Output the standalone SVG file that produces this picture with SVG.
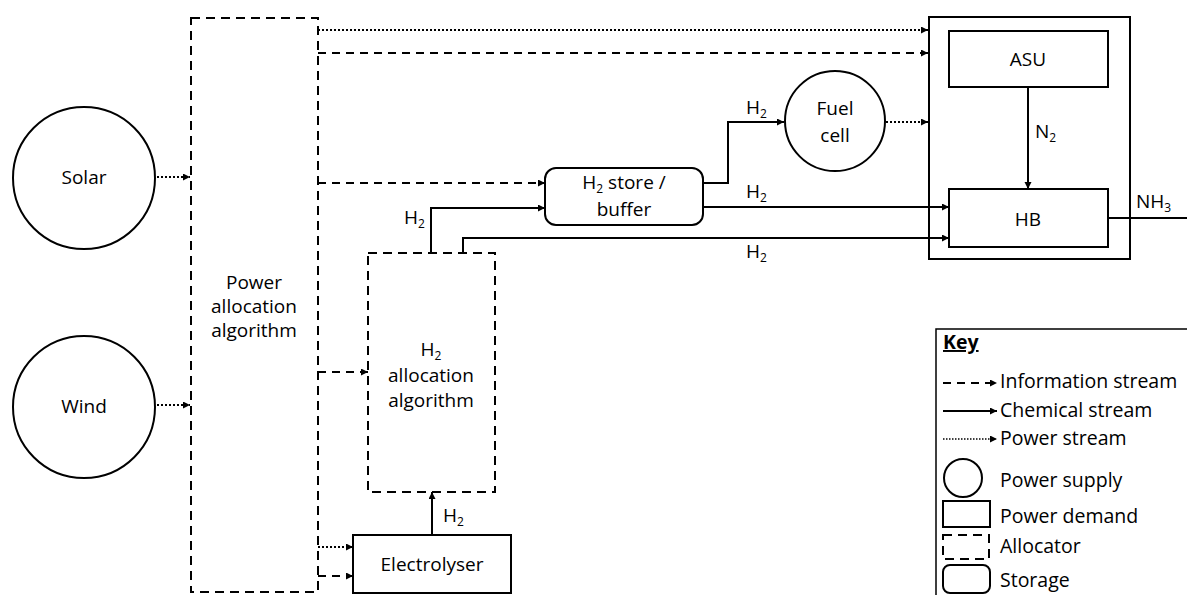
<svg xmlns="http://www.w3.org/2000/svg" width="1187" height="595" viewBox="0 0 1187 595">
<style>
text{font-family:"Open Sans","Liberation Sans",sans-serif;font-size:19px;fill:#000}
.c{text-anchor:middle}
.sub{font-size:12px}
.k{font-size:19.5px}
.box{fill:#fff;stroke:#000;stroke-width:2}
.alloc{fill:none;stroke:#000;stroke-width:2;stroke-dasharray:9 6}
.chem{fill:none;stroke:#000;stroke-width:2}
.info{fill:none;stroke:#000;stroke-width:2;stroke-dasharray:8 6}
.pow{fill:none;stroke:#000;stroke-width:2;stroke-dasharray:2 2}
.arr{marker-end:url(#ah)}
</style>
<defs>
<marker id="ah" markerUnits="userSpaceOnUse" markerWidth="8" markerHeight="8" refX="7" refY="3.5" orient="auto">
<path d="M0,0 L7,3.5 L0,7 z" fill="#000"/>
</marker>
</defs>
<rect width="1187" height="595" fill="#fff"/>

<g id="connectors">
<line class="pow arr" x1="157" y1="177" x2="190" y2="177"/>
<line class="pow arr" x1="157" y1="405" x2="190" y2="405"/>
<line class="pow arr" x1="318" y1="30" x2="928" y2="30"/>
<line class="info arr" x1="318" y1="53" x2="928" y2="53"/>
<line class="info arr" x1="318" y1="183" x2="545" y2="183"/>
<line class="info arr" x1="318" y1="372" x2="368" y2="372"/>
<line class="pow arr" x1="318" y1="547" x2="353" y2="547"/>
<line class="info arr" x1="318" y1="576" x2="353" y2="576"/>
<polyline class="chem arr" points="431,253 431,208 545,208"/>
<polyline class="chem arr" points="463,253 463,238 949,238"/>
<line class="chem arr" x1="703" y1="207" x2="949" y2="207"/>
<polyline class="chem arr" points="703,183 728,183 728,122 784,122"/>
<line class="pow arr" x1="886" y1="122" x2="928" y2="122"/>
<line class="chem arr" x1="1028" y1="87" x2="1028" y2="189"/>
<line class="chem" x1="1108" y1="218" x2="1187" y2="218"/>
<line class="chem arr" x1="432" y1="535" x2="432" y2="492"/>
</g>

<g id="labels">
<text x="404" y="224">H<tspan class="sub" dy="4">2</tspan></text>
<text x="746" y="114">H<tspan class="sub" dy="4">2</tspan></text>
<text x="746" y="198">H<tspan class="sub" dy="4">2</tspan></text>
<text x="746" y="258">H<tspan class="sub" dy="4">2</tspan></text>
<text x="443" y="522">H<tspan class="sub" dy="4">2</tspan></text>
<text x="1035" y="138">N<tspan class="sub" dy="4">2</tspan></text>
<text x="1136" y="208">NH<tspan class="sub" dy="4">3</tspan></text>
</g>

<g id="solar">
<circle class="box" cx="84" cy="178" r="71"/>
<text class="c" x="84" y="184">Solar</text>
</g>
<g id="wind">
<circle class="box" cx="84" cy="407" r="71"/>
<text class="c" x="84" y="413">Wind</text>
</g>
<g id="power-allocation">
<rect class="alloc" x="191" y="18" width="127" height="574"/>
<text class="c" x="254" y="289">Power</text>
<text class="c" x="254" y="313">allocation</text>
<text class="c" x="254" y="337">algorithm</text>
</g>
<g id="h2-allocation">
<rect class="alloc" x="368" y="253" width="127" height="239"/>
<text class="c" x="431" y="356">H<tspan class="sub" dy="4">2</tspan></text>
<text class="c" x="431" y="382">allocation</text>
<text class="c" x="431" y="407">algorithm</text>
</g>
<g id="electrolyser">
<rect class="box" x="353" y="535" width="158" height="58"/>
<text class="c" x="432" y="571">Electrolyser</text>
</g>
<g id="h2-store">
<rect class="box" x="545" y="168" width="158" height="57" rx="11"/>
<text class="c" x="624" y="189">H<tspan class="sub" dy="4">2</tspan><tspan dy="-4"> store /</tspan></text>
<text class="c" x="624" y="216">buffer</text>
</g>
<g id="fuel-cell">
<circle class="box" cx="835" cy="121" r="50"/>
<text class="c" x="835" y="115">Fuel</text>
<text class="c" x="835" y="142">cell</text>
</g>
<g id="plant">
<rect class="chem" x="929" y="17" width="201" height="242"/>
</g>
<g id="asu">
<rect class="box" x="949" y="31" width="159" height="56"/>
<text class="c" x="1028" y="66">ASU</text>
</g>
<g id="hb">
<rect class="box" x="949" y="189" width="159" height="58"/>
<text class="c" x="1028" y="226">HB</text>
</g>

<g id="key">
<rect x="936" y="329" width="270" height="280" fill="#fff" stroke="#000" stroke-width="1.5"/>
<text class="k" x="943" y="349" font-weight="bold" text-decoration="underline">Key</text>
<line class="info arr" x1="943" y1="383" x2="997" y2="383"/>
<text class="k" x="1000" y="388">Information stream</text>
<line class="chem arr" x1="943" y1="411" x2="997" y2="411"/>
<text class="k" x="1000" y="417">Chemical stream</text>
<line class="arr" x1="943" y1="439" x2="997" y2="439" stroke="#000" stroke-width="1.5" stroke-dasharray="1.5 1.5"/>
<text class="k" x="1000" y="445">Power stream</text>
<circle class="box" cx="963" cy="478" r="19"/>
<text class="k" x="1000" y="487">Power supply</text>
<rect class="box" x="943" y="501" width="47" height="26"/>
<text class="k" x="1000" y="523">Power demand</text>
<rect class="alloc" x="943" y="535" width="46" height="24" stroke-dasharray="12 9"/>
<text class="k" x="1000" y="553">Allocator</text>
<rect class="box" x="943" y="565" width="47" height="28" rx="7"/>
<text class="k" x="1000" y="587">Storage</text>
</g>
</svg>
